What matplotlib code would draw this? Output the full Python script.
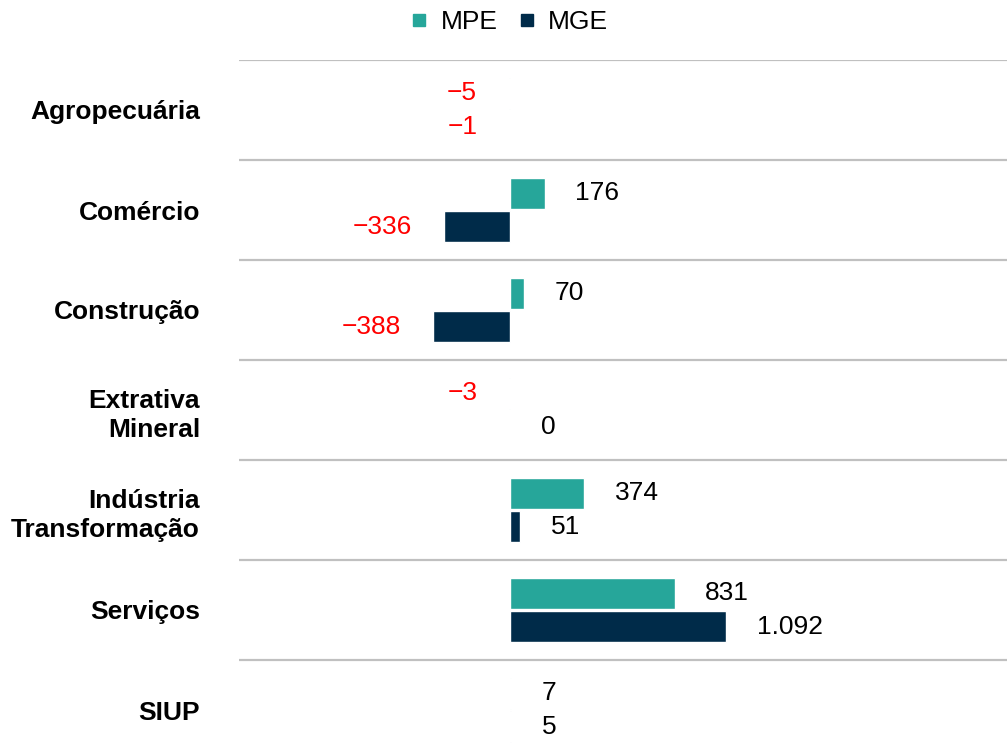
import numpy as np
import matplotlib.pyplot as plt
from matplotlib.lines import Line2D

plt.rcParams['font.family'] = ['Liberation Sans', 'DejaVu Sans']

categories = ['Agropecuária', 'Comércio', 'Construção', 'Extrativa\nMineral',
              'Indústria\nTransformação', 'Serviços', 'SIUP']
mpe = [-5, 176, 70, -3, 374, 831, 7]
mge = [-1, -336, -388, 0, 51, 1092, 5]
series_names = ['MPE', 'MGE']
colors = ['#26a69a', '#002b49']


def fmt(v):
    s = '{:,}'.format(abs(v)).replace(',', '.')
    return ('\u2212' + s) if v < 0 else s


fig = plt.figure(figsize=(10.07, 7.53), dpi=100)
ax = fig.add_axes([239 / 1007, -7 / 753, 768 / 1007, 700 / 753])

y = np.arange(len(categories))
h = 0.31
off = 0.165

# white edge hides the tiny bars like in the original
ax.barh(y - off, mpe, height=h, color=colors[0], edgecolor='white', linewidth=1.0)
ax.barh(y + off, mge, height=h, color=colors[1], edgecolor='white', linewidth=1.0)

for vals, dy in [(mpe, -off), (mge, off)]:
    for i, v in enumerate(vals):
        neg = v < 0
        ax.annotate(fmt(v), xy=(v, i + dy), xytext=(-23 if neg else 22, 0),
                    textcoords='offset points', ha='right' if neg else 'left',
                    va='center', fontsize=19, color='#ff0000' if neg else 'black')

for k in range(len(categories) + 1):
    ax.axhline(k - 0.5, color='#c0c0c0', lw=1.6, zorder=0)

ax.set_xlim(-1369, 2510)
ax.set_ylim(6.5, -0.5)
ax.set_yticks(y)
ax.set_yticklabels(categories, fontsize=19, fontweight='bold', linespacing=1.3)
ax.tick_params(axis='y', length=0, pad=28)
ax.set_xticks([])
for sp in ax.spines.values():
    sp.set_visible(False)

handles = [Line2D([], [], marker='s', ls='none', color=c, markersize=8.5) for c in colors]
fig.legend(handles, series_names, loc='center', bbox_to_anchor=(507 / 1007, 1 - 22 / 753),
           ncol=2, frameon=False, fontsize=19, handletextpad=0.3, columnspacing=0.6,
           handlelength=1.0)

fig.savefig('out.png', dpi=100)
